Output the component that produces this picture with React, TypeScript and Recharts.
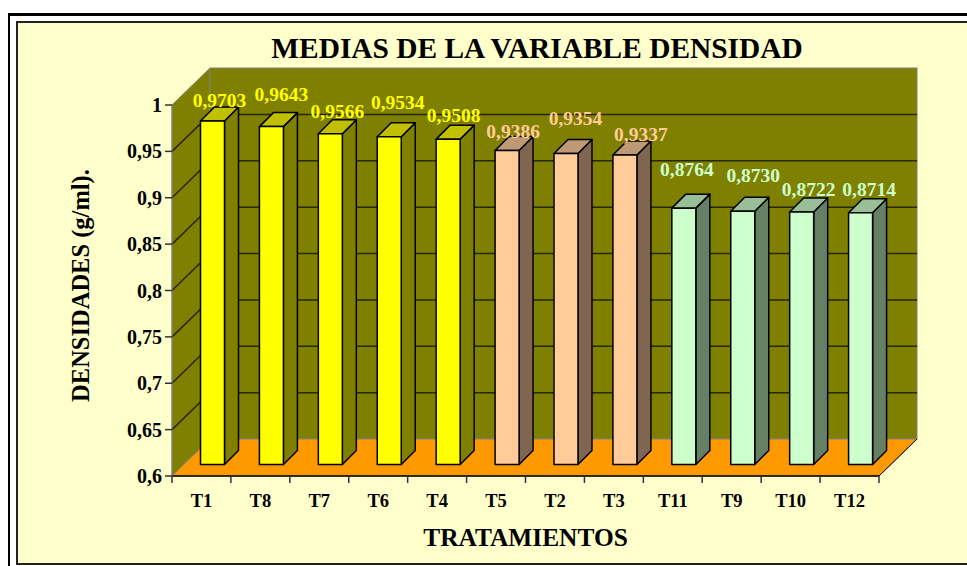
import { Bar, BarChart, LabelList, ReferenceArea, ReferenceLine, XAxis, YAxis } from "recharts";

const categories = ["T1", "T8", "T7", "T6", "T4", "T5", "T2", "T3", "T11", "T9", "T10", "T12"];
const densities = [0.9703, 0.9643, 0.9566, 0.9534, 0.9508, 0.9386, 0.9354, 0.9337, 0.8764, 0.873, 0.8722, 0.8714];
const groups = [0, 0, 0, 0, 0, 1, 1, 1, 2, 2, 2, 2];
const yTicks = [0.6, 0.65, 0.7, 0.75, 0.8, 0.85, 0.9, 0.95, 1];
const gridValues = [0.65, 0.7, 0.75, 0.8, 0.85, 0.9, 0.95];
// the original staggers its value labels by hand, these are the nudges in px
const labelLift = [0, 12, 2, 14, 3, -2, 14, 0, 18, 15, 2, 3];
const labelShift = [0, 3, 0, 1.5, -1.5, -1, 2.5, 9, -4, 3.5, 0, 1.5];

const front = ["#FFFF00", "#FFCC99", "#CCFFCC"];
const top = ["#C0C000", "#BF9973", "#99BF99"];
const side = ["#808000", "#806650", "#668066"];

const font = "'Liberation Serif', 'Times New Roman', serif";
const W = 967;
const H = 566;
const PLOT_WIDTH = 707;
const HALF_BAND = PLOT_WIDTH / categories.length / 2;
const WALL_DX = 38;
const WALL_DY = 37;
const BAR_SHIFT = 11.5;
const BAR_DEPTH = 14;

const data = categories.map((name, i) => ({ name, value: densities[i], group: groups[i] }));

const Walls = ({ x, y, width, height }: any) => {
  const b = y + height;
  const r = x + width;
  return (
    <g>
      <polygon points={`${x},${y} ${x + WALL_DX},${y - WALL_DY} ${x + WALL_DX},${b - WALL_DY} ${x},${b}`} fill="#808000" stroke="#808080" />
      <rect x={x + WALL_DX} y={y - WALL_DY} width={width} height={height} fill="#808000" stroke="#808080" />
      <polygon points={`${x},${b} ${r},${b} ${r + WALL_DX},${b - WALL_DY} ${x + WALL_DX},${b - WALL_DY}`} fill="#FF9900" stroke="#808080" />
      <line x1={x} y1={b} x2={r} y2={b} stroke="#000" strokeWidth={1.5} />
      <line x1={r} y1={b} x2={r + WALL_DX} y2={b - WALL_DY} stroke="#000" />
    </g>
  );
};

const GridLine = ({ x1, x2, y1 }: any) => {
  const x = Number(x1);
  const y = Number(y1);
  return (
    <polyline
      points={`${x},${y} ${x + WALL_DX},${y - WALL_DY} ${Number(x2) + WALL_DX},${y - WALL_DY}`}
      fill="none"
      stroke="#262600"
      strokeWidth={1.5}
    />
  );
};

const Bar3D = ({ x, y, width, height, payload }: any) => {
  const l = x + BAR_SHIFT;
  const t = y - BAR_SHIFT;
  const r = l + width;
  const b = t + height;
  const d = BAR_DEPTH;
  const g = payload.group;
  return (
    <g stroke="#000" strokeWidth={1.5} strokeLinejoin="round">
      <polygon points={`${r},${t} ${r + d},${t - d} ${r + d},${b - d} ${r},${b}`} fill={side[g]} />
      <polygon points={`${l},${t} ${l + d},${t - d} ${r + d},${t - d} ${r},${t}`} fill={top[g]} />
      <rect x={l} y={t} width={width} height={height} fill={front[g]} />
    </g>
  );
};

const ValueLabel = ({ x, y, width, index, value }: any) => (
  <text
    x={x + BAR_SHIFT + (width + BAR_DEPTH) / 2 + labelShift[index]}
    y={y - BAR_SHIFT - BAR_DEPTH - labelLift[index]}
    textAnchor="middle"
    fontFamily={font}
    fontWeight="bold"
    fontSize={19.5}
    fill={front[groups[index]]}
  >
    {Number(value).toFixed(4).replace(".", ",")}
  </text>
);

const CategoryTick = ({ x, y, index, payload }: any) => {
  const cx = Number(x);
  const axisY = 476;
  return (
    <g>
      <line x1={cx - HALF_BAND} y1={axisY} x2={cx - HALF_BAND} y2={axisY + 7} stroke="#333" strokeWidth={1.5} />
      {index === categories.length - 1 && (
        <line x1={cx + HALF_BAND} y1={axisY} x2={cx + HALF_BAND} y2={axisY + 7} stroke="#333" strokeWidth={1.5} />
      )}
      <text x={cx} y={Number(y) + 23} textAnchor="middle" fontFamily={font} fontWeight="bold" fontSize={18.5} fill="#000">
        {payload.value}
      </text>
    </g>
  );
};

export default function App() {
  return (
    <div style={{ position: "fixed", left: 0, top: 0, width: W, height: H, overflow: "hidden", background: "#fff" }}>
      <div style={{ position: "absolute", left: 8, top: 13, width: W, height: H, borderLeft: "2.5px solid #000", borderTop: "3px solid #000" }} />
      <div
        style={{
          position: "absolute",
          left: 16,
          top: 21,
          width: W,
          height: 540,
          background: "#FFFFCC",
          borderLeft: "2px solid #222",
          borderTop: "2px solid #222",
          borderBottom: "2px solid #222",
        }}
      />
      <div style={{ position: "absolute", left: 0, top: 0 }}>
        <BarChart
          width={W}
          height={H}
          data={data}
          margin={{ top: 105, right: 88, bottom: 40, left: 172 - 100 }}
          barSize={24}
        >
          <XAxis
            dataKey="name"
            axisLine={false}
            tickLine={false}
            tick={<CategoryTick />}
            height={50}
            interval={0}
            label={{
              value: "TRATAMIENTOS",
              position: "insideBottom",
              offset: -20,
              fontFamily: font,
              fontWeight: "bold",
              fontSize: 25.4,
              fill: "#000",
            }}
          />
          <YAxis
            type="number"
            domain={[0.6, 1]}
            ticks={yTicks}
            width={100}
            interval={0}
            axisLine={{ stroke: "#808080" }}
            tickLine={{ stroke: "#333", strokeWidth: 1.5 }}
            tickSize={7}
            tickMargin={3}
            tick={{ fontFamily: font, fontWeight: "bold", fontSize: 20, fill: "#000" }}
            tickFormatter={(v: number) => String(v).replace(".", ",")}
            label={{
              value: "DENSIDADES (g/ml).",
              angle: -90,
              position: "insideLeft",
              offset: 8,
              dy: -5,
              textAnchor: "middle",
              fontFamily: font,
              fontWeight: "bold",
              fontSize: 24.5,
              fill: "#000",
            }}
          />
          <ReferenceArea y1={0.6} y2={1} shape={<Walls />} ifOverflow="visible" />
          {gridValues.map((v) => (
            <ReferenceLine key={v} y={v} shape={<GridLine />} ifOverflow="visible" zIndex={200} />
          ))}
          <Bar dataKey="value" shape={<Bar3D />} isAnimationActive={false}>
            <LabelList dataKey="value" content={<ValueLabel />} />
          </Bar>
          <text x={537} y={58} textAnchor="middle" fontFamily={font} fontWeight="bold" fontSize={29.4} fill="#000">
            MEDIAS DE LA VARIABLE DENSIDAD
          </text>
        </BarChart>
      </div>
    </div>
  );
}
